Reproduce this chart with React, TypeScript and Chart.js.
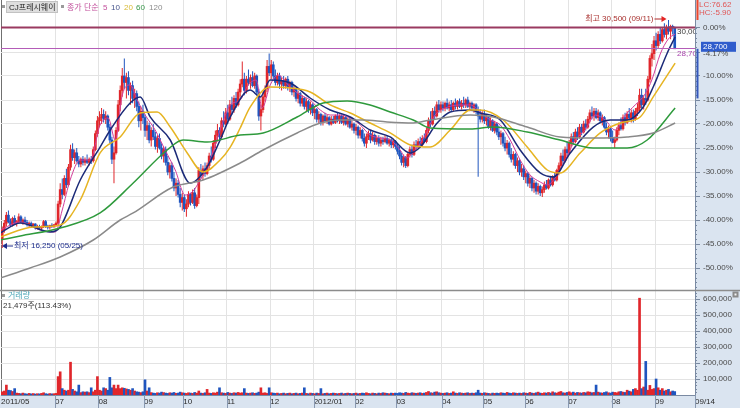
import React, { useEffect, useRef } from 'react';
import { Chart, registerables } from 'chart.js';

Chart.register(...registerables);

const FONT = "'Liberation Sans', 'Noto Sans CJK KR', sans-serif";

// ---- reference values ----
const BASE_PRICE = 30000; // 0.00% line
const LAST_PRICE = 28700;
const HIGH_PRICE = 30500;
const HIGH_DAY = 323;
const LOW_PRICE = 16250;
const LOW_DAY = 1;
const RANGE_LOW = 25600;

// x axis: trading-day index
const X_MIN = 0.4;
const X_MAX = 335.8;
const MONTH_TICKS = [0.4, 26.5, 47.5, 69.5, 88.5, 109.5, 130.5, 151.5, 171.5, 191.5, 213.5, 233.5, 253.5, 274.5, 295.5, 316.5, 335.8];
const MONTH_LABELS = ['2011/05', '07', '08', '09', '10', '11', '12', '2012/01', '02', '03', '04', '05', '06', '07', '08', '09', '09/14'];
const PCT_TICKS = [0, -5, -10, -15, -20, -25, -30, -35, -40, -45, -50];
const VOL_TICKS = [100000, 200000, 300000, 400000, 500000, 600000];

// ---- daily candles (hundreds of won), day index 1..326 ----
const OPEN = [
  168,174,178,183,179,
  177,181,178,179,182,179,180,178.5,177,178,176.5,177.5,175,176,175,176,179,176,175.5,176.5,176,
  177,178,190,199,196,206,202,213,224,219,222,217,215,218,216,217.5,216,218,217,224,234,
  242,244,246,243,245,238,230,218,222,236,252,261,270,266,269,261,264,256,259,251,242,248,
  244,236,239,230,236,232,226,231,225,220,224,216,210,214,206,200,203,196,191,
  194,187,190,196,191,197,189,194,211,208,212,209,214,220,218,228,233,236,232,242,240,
  247,243,252,249,256,252,260,265,268,261,268,266,269,264,270,260,245,249,257,262,276,
  272,277,270,266,270,265,267,264,268,263,266,260,262,256,259,253,256,251,254,249,252,
  247,249,243,246,241,245,242,244,240,243,241,245,242,245,241,244,240,243,238,240,
  236,238,233,236,231,228,232,234,230,233,229,231,228,230,229,231,228,230,227,229,
  226,223,220,216,219,214,221,224,221,227,226,229,227,231,229,236,242,240,248,245,252,249,
  252,250,253,250,252,249,253,251,254,251,253,252,255,251,253,250,252,248,245,243,
  246,242,244,238,242,236,240,235,232,234,228,225,228,221,218,221,214,217,210,212,
  207,209,203,206,200,203,198,201,197,199,202,200,205,202,207,205,211,214,220,217,224,
  222,228,232,229,235,232,238,235,240,238,243,247,245,248,244,247,242,244,238,235,237,
  231,228.5,230,236,239,237,244,241,246,244,247,243,248,250,258,252,256,255,268,281,284,
  292,289,296,292,299,296,300,298,301,300,
];
const HIGH = [
  176,180,185,186,181,
  182,183,180,184,183,181,182,180,179,179,178,178,177,177,176.5,180,180,177,177,178,177.5,
  179,192,203,206,208,212,215,227,228,224,225,220,219,220,219,221,219,220,226,236,245,
  248,250,249,248,246,240,232,226,238,255,264,275,281,272,273,266,267,262,261,254,251,252,
  246,242,241,238,240,235,233,234,228,226,226,220,216,216,210,206,205,200,197,
  196,193,198,197,199,200,196,213,215,214,216,216,222,226,230,236,240,238,244,248,250,
  252,255,257,258,260,262,268,279,272,270,274,271,273,272,271,262,252,260,264,280,284,
  280,279,274,272,272,269,270,269,270,267,267,264,263,261,260,258,257,256,255,254,253,
  251,250,248,247,246,247,246,245,245,245,246,247,246,246,245,245,244,244,242,241,
  240,239,238,237,234,234,236,236,235,234,233,233,232,232,233,233,231,231,231,230,
  228,226,222,221,220,222,226,227,229,230,231,232,233,234,238,244,248,250,251,254,255,254,
  254,254,256,254,255,254,256,255,256,255,257,256,257,254,254,253,253,251,249,248,
  249,246,245,244,243,242,241,239,236,235,232,230,229,225,223,222,219,218,215,214,
  211,210,208,207,205,204,203,202,201,204,205,206,207,208,210,212,216,222,224,226,229,
  230,234,235,237,238,240,240,242,243,245,249,251,250,250,249,248,246,245,241,239,238,
  236,232,238,241,244,246,247,248,250,249,249,250,253,262,262,258,262,270,283,290,295,
  297,298,300,300,303,302,305,302,302,301,
];
const LOW = [
  162.5,172,176,178,176,
  176,177,176,178,178,177,178,176,175.5,176,175,174,174,174.5,173.5,175,175,174,174,175,175,
  176,177,188,193,195,200,201,211,217,215,216,213,213,214,214,215,214,215,216,223,232,
  238,240,241,240,236,228,215,203,221,235,248,257,262,256,258,252,253,250,248,238,236,240,
  232,230,228,226,230,224,222,224,218,216,214,208,206,204,198,195,194,188,186,
  185,182,188,189,190,187,188,190,206,205,207,208,212,216,217,225,229,230,231,238,239,
  240,242,246,247,250,251,257,263,258,259,264,262,263,262,258,242,236,247,254,260,270,
  268,268,264,264,262,261,262,262,261,260,258,257,254,253,251,251,249,248,247,246,245,
  243,241,240,239,239,241,240,239,239,240,240,241,240,240,239,239,238,237,236,234,
  233,231,231,229,226,225,230,228,229,227,227,226,226,227,228,227,226,225,225,224,
  221,218,214,213,212.5,213,219,219,220,224,225,225,226,228,228,234,238,239,243,244,247,247,
  248,248,249,248,248,248,249,249,250,249,250,250,250,248,248,247,246,207,241,241,
  240,239,237,236,235,234,233,230,227,226,223,221,219,216,214,212,210,208,207,205,
  203,201,200,198,197,196,196,195,194.4,197,199,199,201,201,204,204,208,212,215,216,220,
  221,226,227,228,230,231,233,234,236,237,241,243,242,243,242,241,239,237,233,231,229,
  228,225,229,233,236,236,239,240,242,241,241,242,245,248,250,249,252,254,266,276,280,
  286,287,290,291,294,293,296,293,296,287,
];
const CLOSE = [
  174,178,183,179,177,
  181,178,179,182,179,180,178.5,177,178,176.5,177.5,175,176,175,176,179,176,175.5,176.5,176,177,
  178,190,199,196,206,202,213,224,219,222,217,215,218,216,217.5,216,218,217,224,234,242,
  244,246,243,245,238,230,218,222,236,252,261,270,266,269,261,264,256,259,251,242,248,244,
  236,239,230,236,232,226,231,225,220,224,216,210,214,206,200,203,196,191,194,
  187,190,196,191,197,189,194,211,208,212,209,214,220,218,228,233,236,232,242,240,247,
  243,252,249,256,252,260,265,268,261,268,266,269,264,270,260,245,249,257,262,276,272,
  277,270,266,270,265,267,264,268,263,266,260,262,256,259,253,256,251,254,249,252,247,
  249,243,246,241,245,242,244,240,243,241,245,242,245,241,244,240,243,238,240,236,
  238,233,236,231,228,232,234,230,233,229,231,228,230,229,231,228,230,227,229,226,
  223,220,216,219,214,221,224,221,227,226,229,227,231,229,236,242,240,248,245,252,249,252,
  250,253,250,252,249,253,251,254,251,253,252,255,251,253,250,252,248,245,243,246,
  242,244,238,242,236,240,235,232,234,228,225,228,221,218,221,214,217,210,212,207,
  209,203,206,200,203,198,201,197,199,202,200,205,202,207,205,211,214,220,217,224,222,
  228,232,229,235,232,238,235,240,238,243,247,245,248,244,247,242,244,238,235,237,231,
  228.5,230,236,239,237,244,241,246,244,247,243,248,250,258,252,256,255,268,281,284,292,
  289,296,292,299,296,300,298,301,300,287,
];
// volume, thousands of shares
const VOLUME = [
  20,25,62,30,28,
  22,40,12,10,8,12,8,6,10,7,9,6,8,7,10,14,8,6,9,7,8,
  10,115,145,40,30,25,30,205,35,25,20,62,15,20,18,20,15,45,20,30,115,
  30,25,45,40,30,110,45,62,40,62,40,45,42,38,35,30,40,25,20,18,15,20,
  95,25,45,15,12,10,14,12,18,15,12,10,14,12,16,10,12,18,14,
  12,10,14,12,10,16,12,25,12,10,14,35,12,10,14,12,18,45,14,12,10,
  16,12,10,14,12,16,12,14,40,12,10,12,14,10,12,18,45,12,14,10,45,
  14,12,10,12,8,10,12,8,10,12,8,10,12,8,10,12,45,10,8,12,10,
  8,12,10,40,8,10,12,8,10,12,10,8,10,12,8,10,12,10,8,10,
  12,8,10,12,10,14,10,8,12,10,8,12,10,14,12,10,8,12,10,12,
  10,14,12,10,16,12,10,14,12,10,12,14,10,12,16,22,14,12,18,20,14,12,
  10,12,14,10,12,20,12,10,14,12,10,12,14,10,12,10,14,30,12,10,
  14,12,10,8,12,10,12,10,14,12,10,16,12,10,14,12,10,12,10,14,
  12,10,16,12,10,14,18,12,10,14,12,16,12,20,14,12,18,22,14,12,16,
  20,14,18,12,16,14,12,16,14,20,18,14,16,62,18,14,12,16,20,14,12,
  18,16,14,20,22,18,16,30,24,20,35,40,30,605,40,50,210,30,60,35,40,
  100,45,30,40,25,30,35,20,25,21.479,
];

// moving averages: [day index, price in hundreds]
const MA5 = [[0,173.75],[9.7,178.75],[19.3,173.75],[26.6,172.5],[30,186.25],[33.8,205],[38.7,217.5],[43.5,217.5],[48.3,239.4],[52.2,243.75],[55.6,230],[59,258.1],[62.8,264.4],[66.2,255],[70.1,245.6],[74.9,236.25],[79.7,223.75],[84.6,211.25],[89.4,195.6],[92.8,197.5],[96.7,205],[101.5,217.5],[106.3,236.25],[111.2,251.9],[116,255],[119.9,264.4],[123.7,267.5],[126.6,250],[130.5,264.4],[134.4,270.6],[139.2,264.4],[145,258.1],[149.8,255],[154.7,248.75],[159.5,245.6],[164.3,245.6],[169.2,243.75],[174,239.4],[178.8,233.1],[183.7,231.25],[188.5,230],[193.3,223.75],[196.2,218.75],[200.6,223.75],[205.4,233.1],[210.2,245.6],[215.1,250],[222.3,251.9],[227.2,251.9],[232,247.5],[236.8,242.5],[241.7,239.4],[246.5,230],[251.3,217.5],[256.1,208.1],[261,203.75],[264.4,201.9],[268.2,206.25],[273.1,217.5],[277.9,230],[282.7,236.25],[287.6,245.6],[292.4,242.5],[297.2,236.25],[302.1,245.6],[306.9,251.9],[311.7,258.75],[315.1,268.1],[319,283.75],[322.9,293.1],[326.2,296.25]];
const MA10 = [[0,171.9],[9.7,178.1],[24.2,172.5],[29,175.6],[38.7,205],[48.3,225.6],[53.2,236.25],[62.8,253.1],[67.7,256.9],[72.5,244.4],[82.2,230],[91.8,203.1],[100,213.1],[106.3,230],[111.2,244.4],[120.8,261.25],[125.7,256.9],[130.5,267.5],[140.2,265.6],[149.8,256.25],[159.5,248.75],[169.2,244.4],[178.8,236.25],[188.5,231.9],[198.2,221.9],[203,225.6],[211.2,240.6],[217.5,247.5],[227.2,248.75],[232,246.9],[241.7,242.5],[251.3,223.75],[261,209.4],[267.3,206.9],[275.5,221.9],[286.6,238.1],[294.8,242.5],[303,242.5],[310.8,250.6],[315.6,263.1],[322.4,284.4],[326.2,294.4]];
const MA20 = [[0,169.4],[16,175.6],[29,176.9],[38.7,192.5],[48.3,221.9],[58,231.9],[67.7,246.9],[75.9,247.5],[82.2,238.1],[90.4,221.9],[98.1,210],[106.3,217.5],[111.2,225.6],[116,237.5],[120.8,250.6],[130.5,263.1],[140.2,262.5],[149.8,260],[159.5,251.9],[169.2,246.9],[178.8,240.6],[188.5,234.4],[198.2,226.9],[207.8,225.6],[217.5,236.25],[227.2,248.75],[232,248.75],[243.1,242.5],[254.7,225.6],[264.4,211.25],[270.6,209.4],[280.3,221.9],[290,234.4],[299.6,240.6],[309.3,244.4],[315.6,256.9],[326.2,278.1]];
const MA60 = [[0,167.5],[9.7,170],[29,175],[48.3,184.4],[64.3,203.1],[80.7,223.75],[88.4,230],[100,228.75],[116,233.1],[127.1,234.4],[143.5,244.4],[156.1,253.1],[167.7,254.4],[178.8,251.9],[188.5,247.5],[199.6,242.5],[207.8,237.5],[227.2,236.9],[238.3,238.1],[254.7,235],[270.6,230],[286.6,225],[303,225],[312.7,230],[326.2,250]];
const MA120 = [[0,143.75],[14.5,150],[29,156.9],[45,167.5],[58,180],[64.3,184.4],[83.6,200.6],[98.1,205],[116,215.6],[127.1,223.75],[143.5,234.4],[154.7,240.6],[164.3,242.5],[175.4,242.5],[187,241.25],[199.6,240.6],[207.8,242.5],[227.2,245.6],[238.3,244.4],[254.7,238.1],[270.6,231.9],[286.6,231.25],[303,231.9],[315.6,234.4],[326.2,240.6]];

const UP = '#e0262b';
const DOWN = '#1f55bf';
const AXIS_BG = '#dae4f0';
const AXIS_LINE = '#7a8aa2';
const GRID = '#e3e3e3';

function text(ctx: any, s: string, x: number, y: number, color: string, align: any = 'left', size = 8) {
  ctx.font = `${size}px ${FONT}`;
  ctx.fillStyle = color;
  ctx.textAlign = align;
  ctx.textBaseline = 'middle';
  ctx.fillText(s, x, y);
}
function seg(ctx: any, x1: number, y1: number, x2: number, y2: number, color: string, w = 1) {
  ctx.strokeStyle = color;
  ctx.lineWidth = w;
  ctx.beginPath();
  ctx.moveTo(x1, y1);
  ctx.lineTo(x2, y2);
  ctx.stroke();
}
function noPad(s: any) {
  s.paddingTop = 0;
  s.paddingBottom = 0;
  s.paddingLeft = 0;
  s.paddingRight = 0;
}

const decor = {
  id: 'decor',
  beforeDraw(chart: any) {
    const { ctx, chartArea: a, width, height } = chart;
    ctx.save();
    ctx.fillStyle = '#ffffff';
    ctx.fillRect(0, 0, width, height);
    ctx.fillStyle = AXIS_BG;
    ctx.fillRect(a.right, 0, width - a.right, height);
    ctx.fillRect(0, a.bottom, width, height - a.bottom);
    ctx.restore();
  },
  afterDraw(chart: any) {
    const { ctx, chartArea: a, width, height, scales } = chart;
    const xs = scales.x, yP = scales.yP, yV = scales.yV;
    ctx.save();

    // minor ticks on price and volume axes
    for (let p = 0; p >= -60; p -= 1) {
      const yy = Math.round(yP.getPixelForValue(BASE_PRICE * (1 + p / 100))) + 0.5;
      if (yy > yP.top && yy < yP.bottom) seg(ctx, a.right, yy, a.right + 2, yy, AXIS_LINE);
    }
    for (let v = 20000; v < 650000; v += 20000) {
      const yy = Math.round(yV.getPixelForValue(v)) + 0.5;
      if (yy > yV.top) seg(ctx, a.right, yy, a.right + 2, yy, AXIS_LINE);
    }

    // panel separator
    const sepY = Math.round(yP.bottom) + 0.5;
    seg(ctx, 0, sepY, width, sepY, '#8c8c8c', 1.5);

    // date strip separators
    MONTH_TICKS.forEach((v, i) => {
      if (i === 0) return;
      const px = Math.round(xs.getPixelForValue(v)) + 0.5;
      seg(ctx, px, a.bottom, px, height, '#8898b0');
    });

    // reference lines (clip to price pane)
    ctx.save();
    ctx.beginPath();
    ctx.rect(a.left, yP.top, a.right - a.left, yP.bottom - yP.top);
    ctx.clip();
    const yBase = Math.round(yP.getPixelForValue(BASE_PRICE)) - 0.5;
    const yLast = Math.round(yP.getPixelForValue(LAST_PRICE)) - 0.5;
    seg(ctx, a.left, yBase, a.right, yBase, '#9a3a60', 2);
    seg(ctx, a.left, yLast, a.right, yLast, '#b45cb8', 1);
    text(ctx, '30,000', a.right - 18, yBase + 4.5, '#3a3a3a');
    text(ctx, '28,700', a.right - 18, yLast + 5, '#a844ac');
    ctx.restore();

    // highest marker
    const hx = xs.getPixelForValue(HIGH_DAY) - 2;
    const hy = yP.getPixelForValue(HIGH_PRICE) - 1;
    seg(ctx, hx - 12, hy, hx - 4, hy, '#b02a2a');
    ctx.fillStyle = '#e42424';
    ctx.beginPath();
    ctx.moveTo(hx, hy); ctx.lineTo(hx - 5, hy - 3); ctx.lineTo(hx - 5, hy + 3); ctx.closePath(); ctx.fill();
    text(ctx, '최고 30,500 (09/11)', hx - 13, hy, '#a8302e', 'right');

    // lowest marker
    const lx = Math.max(a.left + 1, xs.getPixelForValue(LOW_DAY) - 1);
    const ly = yP.getPixelForValue(LOW_PRICE) - 2;
    ctx.fillStyle = '#1c2c8c';
    ctx.beginPath();
    ctx.moveTo(lx, ly); ctx.lineTo(lx + 5, ly - 3); ctx.lineTo(lx + 5, ly + 3); ctx.closePath(); ctx.fill();
    seg(ctx, lx + 5, ly, lx + 11, ly, '#1c2c8c');
    text(ctx, '최저 16,250 (05/25)', lx + 12, ly, '#1c2c8c');

    // header legend
    ctx.fillStyle = '#9a9a9a';
    ctx.fillRect(2, 5, 3, 3);
    ctx.fillStyle = '#dedede';
    ctx.fillRect(6, 1, 52, 12);
    ctx.strokeStyle = '#c2c2c2';
    ctx.lineWidth = 1;
    ctx.strokeRect(6.5, 1.5, 51, 11);
    text(ctx, 'CJ프레시웨이', 9, 7.5, '#222222');
    ctx.fillStyle = '#9a9a9a';
    ctx.fillRect(61, 5, 3, 3);
    text(ctx, '종가 단순', 67, 7.5, '#c2509c');
    text(ctx, '5', 103, 7.5, '#c2509c');
    text(ctx, '10', 111, 7.5, '#46548c');
    text(ctx, '20', 124, 7.5, '#d8ba34');
    text(ctx, '60', 136, 7.5, '#38984a');
    text(ctx, '120', 149, 7.5, '#8c8c8c');

    // axis side markers
    const ax = a.right + 2.5;
    seg(ctx, ax, 0, ax, yP.getPixelForValue(HIGH_PRICE), '#f0462a', 2);
    seg(ctx, ax, yP.getPixelForValue(LAST_PRICE), ax, yP.getPixelForValue(RANGE_LOW), '#3558bc', 2);
    text(ctx, 'LC:76.62', a.right + 4, 5, '#e05656');
    text(ctx, 'HC:-5.90', a.right + 4, 13, '#e05656');
    const by = yP.getPixelForValue(LAST_PRICE);
    ctx.fillStyle = '#2f5ccc';
    ctx.fillRect(a.right + 6, by - 7, 35, 10);
    text(ctx, '28,700', a.right + 8, by - 2, '#ffffff');
    text(ctx, '-4.17%', a.right + 8, by + 5, '#4a4a4a');

    // volume pane header
    ctx.fillStyle = '#9a9a9a';
    ctx.fillRect(2, yV.top + 4, 3, 3);
    text(ctx, '거래량', 8, yV.top + 6, '#4aa6b6');
    text(ctx, '21,479주(113.43%)', 3, yV.top + 16, '#333333');
    ctx.fillStyle = '#f4f4f4';
    ctx.fillRect(width - 7, yV.top + 2, 5, 5);
    ctx.strokeStyle = '#8a8a8a';
    ctx.strokeRect(width - 6.5, yV.top + 2.5, 4, 4);

    ctx.restore();
  },
};

export default function App() {
  const ref = useRef<HTMLCanvasElement>(null);
  useEffect(() => {
    document.body.style.margin = '0';
    const days = CLOSE.map((_, k) => k + 1);
    const isUp = CLOSE.map((c, k) => c >= OPEN[k]);
    const colors = isUp.map((u) => (u ? UP : DOWN));
    const maLine = (pts: number[][], color: string, w: number) => ({
      type: 'line' as const,
      data: pts.map(([x, p]) => ({ x, y: p * 100 })),
      borderColor: color,
      borderWidth: w,
      pointRadius: 0,
      fill: false,
      cubicInterpolationMode: 'monotone' as const,
      yAxisID: 'yP',
      order: 0,
    });
    const chart = new Chart(ref.current as HTMLCanvasElement, {
      type: 'line',
      data: {
        datasets: [
          maLine(MA120, '#8a8a8a', 1.5),
          maLine(MA60, '#2e9a3c', 1.5),
          maLine(MA20, '#e6b422', 1.5),
          maLine(MA10, '#1b2a78', 1.5),
          maLine(MA5, '#d23c9a', 1),
          {
            type: 'bar',
            data: days.map((x, k) => ({ x, y: [OPEN[k] * 100, CLOSE[k] * 100] })),
            backgroundColor: colors,
            barThickness: 2,
            minBarLength: 1,
            grouped: false,
            yAxisID: 'yP',
            order: 1,
          } as any,
          {
            type: 'bar',
            data: days.map((x, k) => ({ x, y: [LOW[k] * 100, HIGH[k] * 100] })),
            backgroundColor: colors,
            barThickness: 1,
            grouped: false,
            inflateAmount: 0,
            yAxisID: 'yP',
            order: 2,
          } as any,
          {
            type: 'bar',
            data: days.map((x, k) => ({ x, y: VOLUME[k] * 1000 })),
            backgroundColor: colors,
            barThickness: 2,
            grouped: false,
            yAxisID: 'yV',
            order: 3,
          } as any,
        ],
      },
      options: {
        animation: false,
        responsive: false,
        events: [],
        layout: { padding: { left: 1, top: 0, right: 0, bottom: 0 } },
        plugins: { legend: { display: false }, tooltip: { enabled: false } },
        scales: {
          x: {
            type: 'linear',
            min: X_MIN,
            max: X_MAX,
            offset: false,
            bounds: 'data',
            afterBuildTicks: (s: any) => { s.ticks = MONTH_TICKS.map((v) => ({ value: v })); },
            afterFit: (s: any) => { s.height = 13; noPad(s); },
            grid: {
              offset: false,
              drawTicks: false,
              color: (c: any) => (c.index === 0 ? '#707070' : c.index === MONTH_TICKS.length - 1 ? 'rgba(0,0,0,0)' : GRID),
            },
            border: { display: true, color: AXIS_LINE },
            ticks: {
              autoSkip: false,
              maxRotation: 0,
              minRotation: 0,
              align: 'start',
              padding: 2,
              color: '#2a2a2a',
              font: { size: 8, family: FONT },
              callback: (_v: any, i: number) => MONTH_LABELS[i],
            },
          } as any,
          yP: {
            type: 'linear',
            position: 'right',
            stack: 'panes',
            stackWeight: 290,
            min: 13625,
            max: 31750,
            bounds: 'data',
            beginAtZero: false,
            afterBuildTicks: (s: any) => { s.ticks = PCT_TICKS.map((p) => ({ value: BASE_PRICE * (1 + p / 100) })); },
            afterFit: (s: any) => { s.width = 45; noPad(s); },
            grid: { color: GRID, tickLength: 5, tickColor: AXIS_LINE, drawTicks: true },
            border: { color: AXIS_LINE },
            ticks: {
              padding: 3,
              autoSkip: false,
              color: '#4a4a4a',
              font: { size: 8, family: FONT },
              callback: (_v: any, i: number) => (PCT_TICKS[i] === -5 ? '' : PCT_TICKS[i].toFixed(2) + '%'),
            },
          } as any,
          yV: {
            type: 'linear',
            position: 'right',
            stack: 'panes',
            stackWeight: 105,
            min: 0,
            max: 656250,
            bounds: 'data',
            afterBuildTicks: (s: any) => { s.ticks = VOL_TICKS.map((v) => ({ value: v })); },
            afterFit: (s: any) => { s.width = 45; noPad(s); },
            grid: { color: GRID, tickLength: 5, tickColor: AXIS_LINE, drawTicks: true },
            border: { color: AXIS_LINE },
            ticks: {
              padding: 3,
              autoSkip: false,
              color: '#4a4a4a',
              font: { size: 8, family: FONT },
              callback: (v: any) => Number(v).toLocaleString('en-US'),
            },
          } as any,
        },
      },
      plugins: [decor],
    });
    return () => chart.destroy();
  }, []);
  return (
    <div style={{ width: 740, height: 408 }}>
      <canvas ref={ref} width={740} height={408} style={{ display: 'block' }} />
    </div>
  );
}
